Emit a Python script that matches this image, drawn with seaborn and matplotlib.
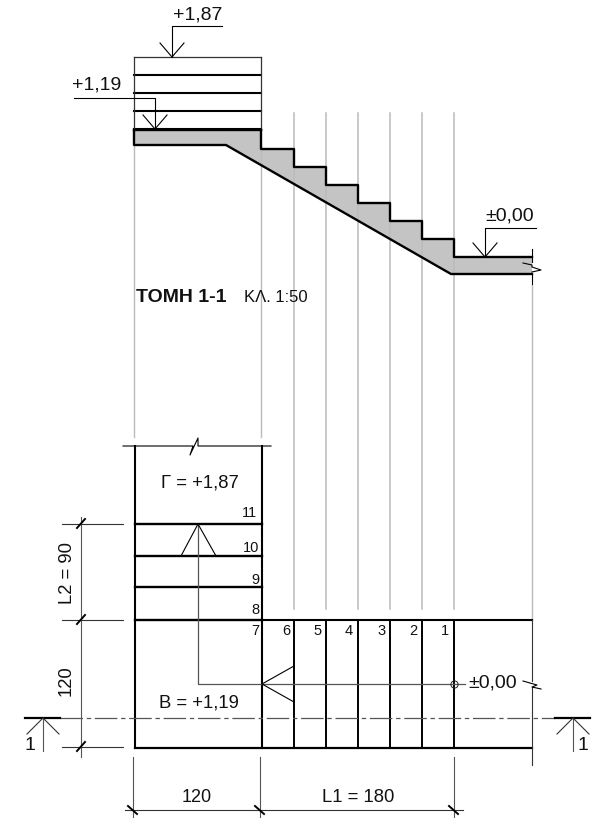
import matplotlib
matplotlib.use("Agg")
import matplotlib.pyplot as plt
import seaborn as sns

# ---------- drawing data (reference pixel coordinates) ----------
section_levels = [57, 75, 93, 111, 129]
flight_x = [134, 261]
stair_x = [261, 261, 294, 294, 326, 326, 358, 358, 390, 390, 422, 422, 454, 454, 532]
stair_y = [130, 149, 149, 167, 167, 185, 185, 203, 203, 221, 221, 239, 239, 257, 257]
soffit_x = [532, 451, 226, 134, 134, 261]
soffit_y = [274, 274, 145, 145, 130, 130]
guides_long = [294, 326, 358, 390, 422, 454]
plan_risers = [294, 326, 358, 390, 422, 454]
plan_landing_lines = [524, 556, 587, 620]
step_labels = ["11", "10", "9", "8", "7", "6", "5", "4", "3", "2", "1"]
step_label_x = [257, 259, 259, 259, 259, 290, 322, 353, 386, 417, 449]
step_label_y = [513, 548, 580, 610, 631, 631, 631, 631, 631, 631, 631]
levels = ["+1,87", "+1,19", "±0,00"]
level_text_x = [198, 97, 510]
level_text_y = [15, 85, 216]
level_arrow_x = [172, 155, 485]
level_line_y = [26, 98, 228]
level_tip_y = [57, 129, 257]
level_line_end = [222, 74, 536]
dim_v_labels = ["L2 = 90", "120"]
dim_v_y = [524, 620, 747]
dim_h_labels = ["120", "L1 = 180"]
dim_h_x = [133, 260, 454]

sns.set_theme(style="white")
plt.rcParams["font.family"] = ["Liberation Sans", "DejaVu Sans"]
fig = plt.figure(figsize=(5.98, 8.18), dpi=100)
ax = fig.add_axes([0, 0, 1, 1])
INK, MID, PALE = "#000000", "#555555", "#bbbbbb"


def seg(xs, ys, lw=0.8, color=INK, **kw):
    sns.lineplot(x=xs, y=ys, sort=False, estimator=None, errorbar=None, lw=lw,
                 color=color, ax=ax, legend=False, solid_capstyle="projecting",
                 **kw)


def label(x, y, s, size=13.3, **kw):
    kw.setdefault("ha", "center")
    kw.setdefault("va", "center")
    ax.text(x, y, s, fontsize=size, color="#111111", **kw)


# section: concrete fill
ax.fill(stair_x + soffit_x, stair_y + soffit_y, color="#c4c4c4", lw=0, zorder=1)

# projection guides
for gx in flight_x:
    seg([gx, gx], [146, 437], lw=1.0, color=PALE)
for gx in guides_long:
    seg([gx, gx], [113, 609], lw=1.1, color=PALE)
seg([532, 532], [285, 620], lw=1.0, color=PALE)

# upper flight in section
for i, y in enumerate(section_levels):
    seg(flight_x, [y, y], lw=0.9 if i == 0 else 1.5, color="#333333" if i == 0 else INK)
seg([134, 134], [57, 130], lw=0.9, color="#333333")
seg([261, 261], [57, 130], lw=0.9, color="#333333")

# stair outline
seg(stair_x, stair_y, lw=1.7)
seg(soffit_x[:5], soffit_y[:5], lw=1.7)
seg([134, 261], [130, 130], lw=1.7)
seg([532, 532], [249, 262], lw=0.8)
seg([532, 532], [274, 284], lw=0.8)
seg([523, 532, 532, 541, 532], [263, 265, 267, 270, 272], lw=0.8)

# level markers
for t, tx, ty, ax_x, ly, tip, end in zip(levels, level_text_x, level_text_y,
                                         level_arrow_x, level_line_y, level_tip_y,
                                         level_line_end):
    label(tx, ty, t, size=14)
    seg([end, ax_x, ax_x], [ly, ly, tip], lw=0.8)
    seg([ax_x - 12, ax_x, ax_x + 12], [tip - 14, tip, tip - 14], lw=0.8)

label(136, 297, "ΤΟΜΗ 1-1", size=14, ha="left", fontweight="bold")
label(244, 297, "ΚΛ. 1:50", size=12, ha="left")

# plan: landing and walls
seg([123, 193, 190, 198, 198, 271], [446, 446, 455, 438, 446, 446], lw=0.8)
seg([135, 135], [446, 748], lw=1.5)
seg([262, 262], [446, 748], lw=1.5)
for y in plan_landing_lines:
    seg([135, 262], [y, y], lw=1.7)
seg([262, 532], [620, 620], lw=1.5)
seg([135, 532], [748, 748], lw=1.6)
for x in plan_risers:
    seg([x, x], [620, 748], lw=1.4)
seg([532, 532], [620, 681], lw=0.8, color="#333333")
seg([532, 532], [687, 765], lw=0.8, color="#333333")
seg([523, 537, 532, 541], [681, 685, 687, 689], lw=0.8)

# walking line
seg([198, 198, 465], [524, 684, 684], lw=0.9, color=MID)
seg([181, 198, 216], [556, 524, 556], lw=0.8)
seg([294, 262, 294], [666, 684, 702], lw=0.8)
ax.plot([454], [684], "o", ms=5.2, mfc="none", mec="#222222", mew=0.7)
label(493, 683, "±0,00", size=14)

for s, x, y in zip(step_labels, step_label_x, step_label_y):
    label(x, y, s, size=10.5, ha="right")
label(200, 483, "Γ = +1,87")
label(199, 703, "Β = +1,19")

# section line
seg([60, 555], [718, 718], lw=0.9, color=MID, dashes=(18, 3, 3.5, 3))
seg([25, 60], [718, 718], lw=1.6)
seg([555, 590], [718, 718], lw=1.6)
for cx, tx in zip([43, 573], [30, 583]):
    seg([cx, cx], [718, 751], lw=0.8, color=MID)
    seg([cx - 16, cx, cx + 16], [734, 718, 734], lw=0.8, color="#333333")
    label(tx, 745, "1", size=14)

# vertical dimensions
seg([81, 81], [517, 757], lw=0.8, color=MID)
for y in dim_v_y:
    seg([62, 123], [y, y], lw=0.8, color="#333333")
    seg([77, 85], [y + 4, y - 5], lw=1.4)
label(67, 573, dim_v_labels[0], rotation=90)
label(66, 681, dim_v_labels[1], rotation=90)

# horizontal dimensions
seg([125, 463], [810, 810], lw=0.8, color="#333333")
for x in dim_h_x:
    seg([x, x], [757, 817], lw=0.8, color=MID)
    seg([x - 5, x + 4], [806, 814], lw=1.4)
label(197, 797, dim_h_labels[0], size=13)
label(358, 797, dim_h_labels[1], size=13.3)

ax.set_xlim(0, 598)
ax.set_ylim(818, 0)
ax.axis("off")
fig.savefig("out.png", dpi=100, facecolor="white")
